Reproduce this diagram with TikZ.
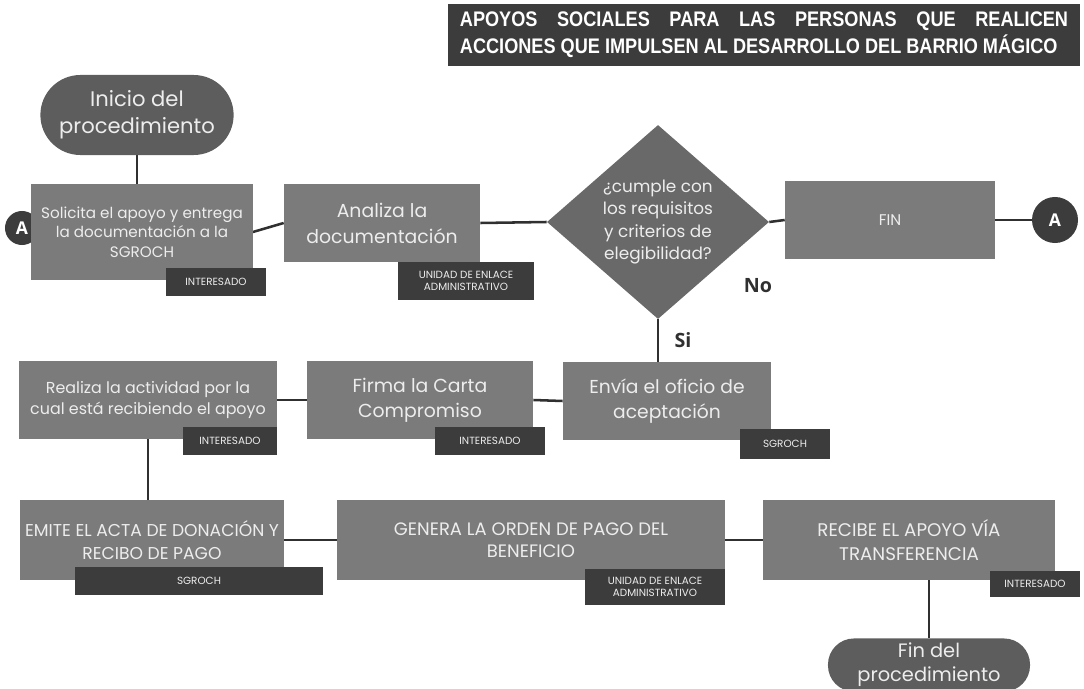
\documentclass[tikz,border=0pt]{standalone}
\usepackage{fontspec}
\setmainfont{Poppins}
\newfontfamily\titlefont[FakeStretch=0.86]{Liberation Sans}
\newfontfamily\labfont{Open Sans}
\usepackage{tikz}
\usetikzlibrary{shapes,arrows,backgrounds,positioning,fit,calc}

\definecolor{boxgray}{HTML}{7B7B7B}
\definecolor{taggray}{HTML}{3C3C3C}
\definecolor{termgray}{HTML}{5D5D5D}
\definecolor{diagray}{HTML}{696969}
\definecolor{linegray}{HTML}{303030}
\definecolor{txtgray}{HTML}{EDEDED}

\tikzset{
  procbox/.style={rectangle,fill=boxgray,text=txtgray,align=center,inner sep=2pt,font=\fontsize{11.3}{15}\selectfont},
  tagbox/.style={rectangle,fill=taggray,text=txtgray,align=center,inner sep=1pt,font=\fontsize{7.4}{9}\selectfont},
  termbox/.style={rectangle,rounded corners=1cm,fill=termgray,text=txtgray,align=center,font=\fontsize{15}{19}\selectfont},
  circA/.style={circle,fill=taggray,text=white,inner sep=0pt,font=\labfont\bfseries\fontsize{12.5}{12.5}\selectfont},
  conn/.style={draw=linegray,line width=1.8pt}
}

\begin{document}
\begin{tikzpicture}[x=0.025cm,y=-0.025cm]
      \useasboundingbox (0,0) rectangle (1084,689);

      \coordinate (T) at (764,35);
      \coordinate (S) at (137,115);
      \coordinate (AL) at (22,228);
      \coordinate (P1) at (142,232);
      \coordinate (P2) at (382,223);
      \coordinate (D) at (658,222);
      \coordinate (F) at (890,220);
      \coordinate (AR) at (1055,220);
      \coordinate (P3) at (148,400);
      \coordinate (P4) at (420,400);
      \coordinate (P5) at (667,401);
      \coordinate (P6) at (152,540);
      \coordinate (P7) at (531,540);
      \coordinate (P8) at (909,540);
      \coordinate (E) at (929,665);

      % title
      \node[fill=taggray,text=white,minimum width=15.8cm,minimum height=1.55cm,inner sep=0pt] (title) at (T)
        {\parbox{15.2cm}{\titlefont\bfseries\fontsize{15}{19.5}\selectfont
          \makebox[\linewidth][s]{APOYOS SOCIALES PARA LAS PERSONAS QUE REALICEN}\\
          ACCIONES QUE IMPULSEN AL DESARROLLO DEL BARRIO MÁGICO}};

      \node[circA,minimum size=0.85cm] (aleft) at (AL) {A};

      \node[termbox,minimum width=4.83cm,minimum height=2cm] (start) at (S) {Inicio del\\procedimiento};
      \node[procbox,minimum width=5.53cm,minimum height=2.38cm,font=\fontsize{10.8}{14}\selectfont] (solicita) at (P1)
        {Solicita el apoyo y entrega\\la documentación a la\\SGROCH};
      \node[procbox,minimum width=4.9cm,minimum height=1.93cm,font=\fontsize{13.4}{18.5}\selectfont] (analiza) at (P2)
        {Analiza la\\documentación};
      \node[diamond,fill=diagray,minimum width=5.55cm,minimum height=4.85cm,inner sep=0pt] (cumple) at (D) {};
      \node[text=txtgray,align=center,font=\fontsize{12}{16}\selectfont] (pregunta) at (D)
        {¿cumple con\\los requisitos\\y criterios de\\elegibilidad?};
      \node[procbox,minimum width=5.25cm,minimum height=1.95cm,font=\fontsize{11}{13}\selectfont] (fin) at (F) {FIN};
      \node[circA,minimum size=1.15cm] (aright) at (AR) {A};

      \node[procbox,minimum width=6.43cm,minimum height=1.93cm] (realiza) at (P3)
        {Realiza la actividad por la\\cual está recibiendo el apoyo};
      \node[procbox,minimum width=5.65cm,minimum height=1.93cm,font=\fontsize{13.4}{18}\selectfont] (firma) at (P4)
        {Firma la Carta\\Compromiso};
      \node[procbox,minimum width=5.2cm,minimum height=1.93cm,font=\fontsize{13.3}{18}\selectfont] (envia) at (P5)
        {Envía el oficio de\\aceptación};

      \node[procbox,minimum width=6.58cm,minimum height=2cm,font=\fontsize{12.2}{16}\selectfont] (emite) at (P6)
        {EMITE EL ACTA DE DONACIÓN Y\\RECIBO DE PAGO};
      \node[procbox,minimum width=9.68cm,minimum height=2cm,font=\fontsize{12.8}{16}\selectfont] (genera) at (P7)
        {GENERA LA ORDEN DE PAGO DEL\\BENEFICIO};
      \node[procbox,minimum width=7.3cm,minimum height=2cm,font=\fontsize{13}{16.5}\selectfont] (recibe) at (P8)
        {RECIBE EL APOYO VÍA\\TRANSFERENCIA};
      \node[termbox,rounded corners=0.65cm,minimum width=5.05cm,minimum height=1.3cm,font=\fontsize{13.8}{17}\selectfont] (fin2) at (E)
        {Fin del\\procedimiento};

      % etiquetas de responsable
      \node[tagbox,minimum width=2.48cm,minimum height=0.68cm] (t1) at (216,282) {INTERESADO};
      \node[tagbox,minimum width=3.38cm,minimum height=0.95cm] (t2) at (466,281) {UNIDAD DE ENLACE\\ADMINISTRATIVO};
      \node[tagbox,minimum width=2.35cm,minimum height=0.68cm] (t3) at (230,441) {INTERESADO};
      \node[tagbox,minimum width=2.75cm,minimum height=0.68cm] (t4) at (490,441) {INTERESADO};
      \node[tagbox,minimum width=2.25cm,minimum height=0.73cm] (t5) at (785,444) {SGROCH};
      \node[tagbox,minimum width=6.2cm,minimum height=0.68cm] (t6) at (199,581) {SGROCH};
      \node[tagbox,minimum width=3.5cm,minimum height=0.9cm] (t7) at (655,587) {UNIDAD DE ENLACE\\ADMINISTRATIVO};
      \node[tagbox,minimum width=2.25cm,minimum height=0.63cm] (t8) at (1035,584) {INTERESADO};

      \node[font=\labfont\bfseries\fontsize{14}{14}\selectfont,text=linegray] (no) at (758,286) {No};
      \node[font=\labfont\bfseries\fontsize{14}{14}\selectfont,text=linegray] (si) at (683,340) {Si};

      \begin{scope}[on background layer]
      \draw[conn] (start.south) -- (start.south |- solicita.north);
      \draw[conn] (solicita.east) -- (analiza.west);
      \draw[conn] (analiza.east) -- (cumple.west);
      \draw[conn] (cumple.east) -- (fin.west);
      \draw[conn] (fin.east) -- (aright.west);
      \draw[conn] (cumple.south) -- (cumple.south |- envia.north);
      \draw[conn] (envia.west) -- (firma.east);
      \draw[conn] (firma.west) -- (realiza.east);
      \draw[conn] (realiza.south) -- (realiza.south |- emite.north);
      \draw[conn] (emite.east) -- (genera.west);
      \draw[conn] (genera.east) -- (recibe.west);
      \draw[conn] (fin2.north |- recibe.south) -- (fin2.north);
      \end{scope}

    \end{tikzpicture}
\end{document}
